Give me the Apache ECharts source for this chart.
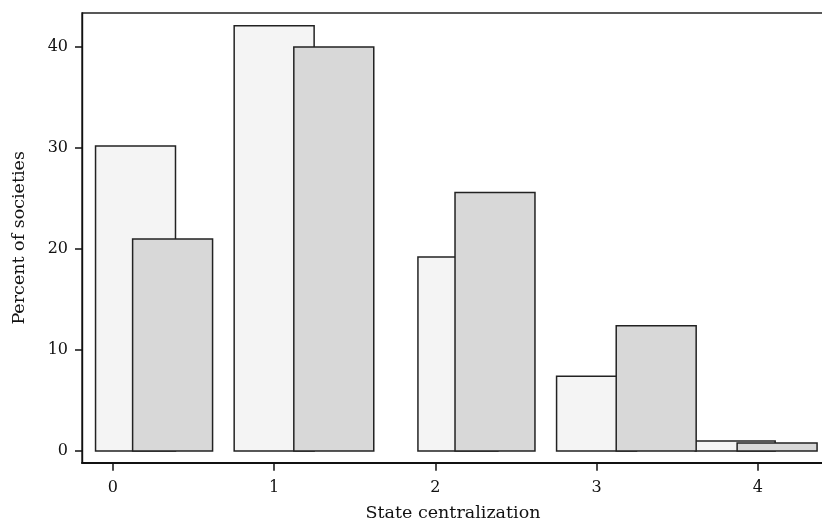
<!DOCTYPE html>
<html>
<head>
<meta charset="utf-8">
<script src="https://cdn.jsdelivr.net/npm/echarts@6/dist/echarts.min.js"></script>
<style>html,body{margin:0;padding:0;background:#fff}#c{width:822px;height:521px}</style>
</head>
<body>
<div id="c"></div>
<script>
// Data
const xTicks = [0, 1, 2, 3, 4];
const yTicks = [0, 10, 20, 30, 40];
const lightX = [0.14, 1.0, 2.14, 3.0, 3.86];
const lightVals = [30.2, 42.1, 19.2, 7.4, 1.0];
const grayX = [0.37, 1.37, 2.37, 3.37, 4.12];
const grayVals = [21.0, 40.0, 25.6, 12.4, 0.8];
const barWidth = 0.496;

const FONT = 'DejaVu Serif';
const chart = echarts.init(document.getElementById('c'), null, {renderer: 'canvas'});

function barRenderer(fill) {
  return function (params, api) {
    const x = api.value(0), v = api.value(1);
    const p1 = api.coord([x - barWidth / 2, v]);
    const p2 = api.coord([x + barWidth / 2, 0]);
    return {
      type: 'rect',
      shape: {x: p1[0], y: p1[1], width: p2[0] - p1[0], height: p2[1] - p1[1]},
      style: {fill: fill, stroke: '#222', lineWidth: 1.5}
    };
  };
}

chart.setOption({
  animation: false,
  backgroundColor: '#fff',
  grid: {left: 82, right: -2, top: 13, bottom: 58.3, show: true, borderColor: '#222', borderWidth: 1.4,
         backgroundColor: 'transparent', containLabel: false, outerBoundsMode: 'none'},
  xAxis: {
    type: 'value', min: -0.192, max: 4.411,
    name: 'State centralization', nameLocation: 'middle', nameGap: 42,
    nameTextStyle: {fontFamily: FONT, fontSize: 17.5, color: '#111'},
    axisLine: {show: true, onZero: false, lineStyle: {color: '#111', width: 2}},
    axisTick: {show: true, length: 8, lineStyle: {color: '#111', width: 1.5}, customValues: xTicks},
    axisLabel: {fontFamily: FONT, fontSize: 16, color: '#111', margin: 17, customValues: xTicks},
    splitLine: {show: false}
  },
  yAxis: {
    type: 'value', min: -1.157, max: 43.36,
    name: 'Percent of societies', nameLocation: 'middle', nameGap: 54,
    nameTextStyle: {fontFamily: FONT, fontSize: 17.5, color: '#111'},
    axisLine: {show: true, onZero: false, lineStyle: {color: '#111', width: 1.4}},
    axisTick: {show: true, length: 7, lineStyle: {color: '#111', width: 1.5}, customValues: yTicks},
    axisLabel: {fontFamily: FONT, fontSize: 16, color: '#111', margin: 14, customValues: yTicks},
    splitLine: {show: false}
  },
  series: [
    {type: 'custom', renderItem: barRenderer('#f4f4f4'), data: lightX.map((x, i) => [x, lightVals[i]]), clip: true},
    {type: 'custom', renderItem: barRenderer('#d8d8d8'), data: grayX.map((x, i) => [x, grayVals[i]]), clip: true}
  ]
});
</script>
</body>
</html>
